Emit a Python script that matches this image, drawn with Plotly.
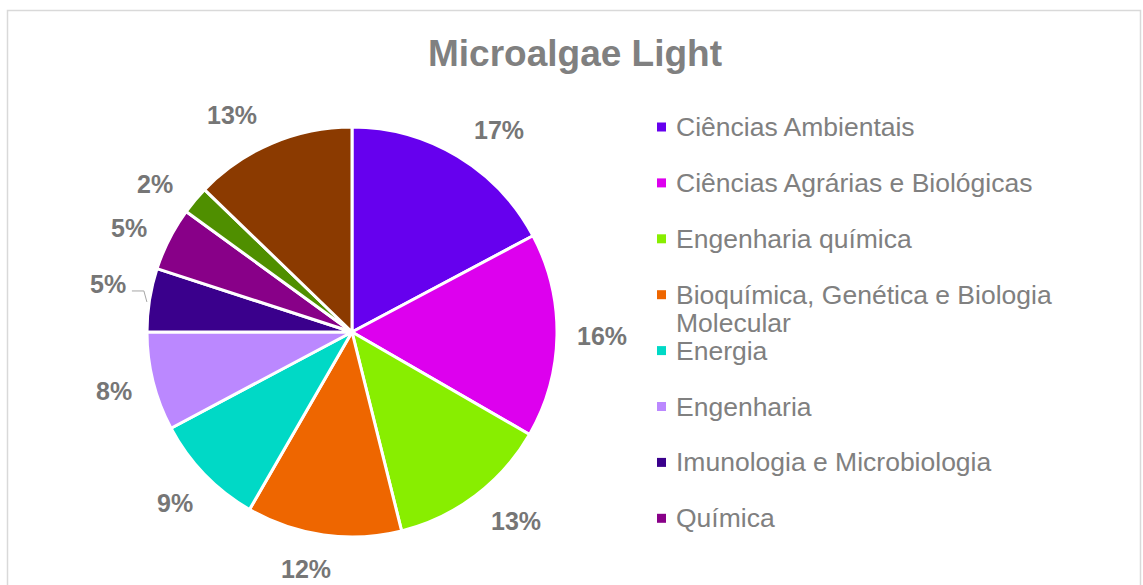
import math
import textwrap
import plotly.graph_objects as go

# ---- data ----
title = "Microalgae Light"
labels = [
    "Ciências Ambientais",
    "Ciências Agrárias e Biológicas",
    "Engenharia química",
    "Bioquímica, Genética e Biologia Molecular",
    "Energia",
    "Engenharia",
    "Imunologia e Microbiologia",
    "Química",
    "Ciências da Terra",
    "Outros",
]
values = [31, 29, 23, 22, 16, 14, 9, 9, 4, 23]
colors = ["#6600EE", "#DD00EE", "#88EE00", "#EE6600", "#00D9C6",
          "#BB88FF", "#3A008C", "#880088", "#4F8F00", "#8B3A00"]
legend_visible = 8  # entries that fit in the legend box

# ---- layout / style constants ----
W, H = 1143, 585
cx, cy, r = 352, 332, 205
label_gap = 20
label_font = 25
# Excel "best fit" nudges of the label angle (degrees), layout only
label_angle_nudge = [5, 0, -4, 3, 0, 0, 1, -2, -3, -6]

def px(x):
    return x / W

def py(y):
    return 1 - y / H

fig = go.Figure()
fig.add_trace(go.Pie(
    labels=labels, values=values, sort=False, direction="clockwise",
    rotation=0, marker=dict(colors=colors, line=dict(color="white", width=3)),
    textinfo="none", showlegend=False,
    domain=dict(x=[px(cx - r), px(cx + r)], y=[py(cy + r), py(cy - r)]),
    hovertemplate="%{label}: %{percent}<extra></extra>",
))

annotations = []
shapes = []
total = sum(values)
cum = 0
for i, v in enumerate(values):
    mid_deg = (cum + v / 2) / total * 360 + label_angle_nudge[i]
    cum += v
    pct = round(100 * v / total)
    txt = f"{pct}%"
    hw = (0.556 * (len(txt) - 1) + 0.889) * label_font / 2
    hh = 12
    th = math.radians(mid_deg)
    dist = r + label_gap + abs(hw * math.sin(th)) + abs(hh * math.cos(th))
    if i == 6:
        dist += 3
    lx = cx + dist * math.sin(th)
    ly = cy - dist * math.cos(th)
    if i == 6:  # label pulled out with a leader line (Excel best fit)
        ly -= 5
        shapes.append(dict(
            type="path", xref="paper", yref="paper",
            path=(f"M {px(lx + 24)} {py(ly + 7)} L {px(lx + 36)} {py(ly + 7)} "
                  f"L {px(lx + 39)} {py(ly + 18)}"),
            line=dict(color="#A6A6A6", width=1),
        ))
    annotations.append(dict(
        x=px(lx), y=py(ly), xref="paper", yref="paper", showarrow=False,
        text=f"<b>{txt}</b>", xanchor="center", yanchor="middle",
        font=dict(family="Arial, Liberation Sans", size=label_font, color="#767676"),
    ))

# title
annotations.append(dict(
    x=px(575), y=py(53), xref="paper", yref="paper", showarrow=False,
    text=f"<b>{title}</b>", xanchor="center", yanchor="middle",
    font=dict(family="Arial, Liberation Sans", size=37, color="#808080"),
))

# legend (manual, Excel-style truncated)
leg_x0, leg_y0, leg_dy, line_h = 661.5, 127, 55.9, 28
for i in range(legend_visible):
    iy = leg_y0 + i * leg_dy
    shapes.append(dict(
        type="rect", xref="paper", yref="paper",
        x0=px(leg_x0 - 4.5), x1=px(leg_x0 + 4.5),
        y0=py(iy + 4.5), y1=py(iy - 4.5),
        fillcolor=colors[i], line=dict(width=0),
    ))
    for k, line in enumerate(textwrap.wrap(labels[i], width=31)):
        annotations.append(dict(
            x=px(674), y=py(iy + k * line_h), xref="paper", yref="paper",
            showarrow=False, text=line, xanchor="left", yanchor="middle",
            font=dict(family="Arial, Liberation Sans", size=26.5, color="#808080"),
        ))

# chart frame
shapes.append(dict(
    type="rect", xref="paper", yref="paper",
    x0=px(7.5), x1=px(1140.5), y0=-0.2, y1=py(10.5),
    line=dict(color="#D9D9D9", width=1.5), fillcolor="rgba(0,0,0,0)",
))

fig.update_layout(
    width=W, height=H, margin=dict(l=0, r=0, t=0, b=0),
    paper_bgcolor="white", plot_bgcolor="white",
    annotations=annotations, shapes=shapes, showlegend=False,
)
fig.write_html("out.html", config={"displayModeBar": False},
               post_script="document.body.style.margin='0';")
